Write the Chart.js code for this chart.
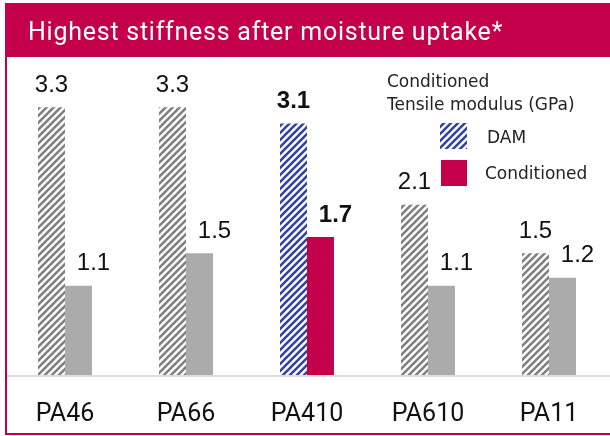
<!DOCTYPE html>
<html><head><meta charset="utf-8">
<script src="https://cdn.jsdelivr.net/npm/chart.js@4/dist/chart.umd.min.js"></script>
<style>html,body{margin:0;padding:0;background:#fff}#wrap{width:610px;height:436px;position:relative}</style>
</head><body><div id="wrap"><canvas id="c" width="610" height="436"></canvas></div>
<script>
const categories = ['PA46', 'PA66', 'PA410', 'PA610', 'PA11'];
const damValues = [3.3, 3.3, 3.1, 2.1, 1.5];
const conditionedValues = [1.1, 1.5, 1.7, 1.1, 1.2];
const seriesNames = ['DAM', 'Conditioned'];
const highlightCategory = 'PA410';
const titleText = 'Highest stiffness after moisture uptake*';
const legendTitleLines = ['Conditioned', 'Tensile modulus (GPa)'];
const yMax = 3.92;

const CRIMSON = '#C4004A';
const BLUE = '#3343A0';
const HATCH_GRAY = '#808080';
const COND_GRAY = '#ABABAB';

function hatch(color) {
  const s = 7;
  const c = document.createElement('canvas');
  c.width = s; c.height = s;
  const g = c.getContext('2d');
  g.fillStyle = '#fff'; g.fillRect(0, 0, s, s);
  g.strokeStyle = color; g.lineWidth = 2.6; g.lineCap = 'square';
  g.beginPath();
  g.moveTo(-1, s + 1); g.lineTo(s + 1, -1);
  g.moveTo(-1, 1); g.lineTo(1, -1);
  g.moveTo(s - 1, s + 1); g.lineTo(s + 1, s - 1);
  g.stroke();
  return g.createPattern(c, 'repeat');
}
const grayHatch = hatch(HATCH_GRAY);
const blueHatch = hatch(BLUE);

const damColors = categories.map(c => c === highlightCategory ? blueHatch : grayHatch);
const condColors = categories.map(c => c === highlightCategory ? CRIMSON : COND_GRAY);

const decor = {
  id: 'decor',
  beforeDraw(chart) {
    const ctx = chart.ctx;
    ctx.save();
    ctx.fillStyle = '#fff';
    ctx.fillRect(0, 0, chart.width, chart.height);
    ctx.fillStyle = CRIMSON;
    ctx.fillRect(5, 3, 605, 54);
    ctx.fillRect(5, 3, 2, 432);
    ctx.fillRect(5, 433, 605, 2);
    ctx.fillStyle = '#fff';
    ctx.font = '25px Roboto';
    ctx.letterSpacing = '0.75px';
    ctx.textBaseline = 'alphabetic';
    ctx.textAlign = 'left';
    ctx.fillText(titleText, 28, 40);
    ctx.letterSpacing = '0px';
    ctx.fillStyle = '#dcdcdc';
    ctx.fillRect(7, chart.chartArea.bottom, 603, 2);
    ctx.restore();
  },
  afterDatasetsDraw(chart) {
    const ctx = chart.ctx;
    ctx.save();
    ctx.fillStyle = '#111';
    ctx.textAlign = 'center';
    ctx.textBaseline = 'middle';
    chart.data.datasets.forEach((ds, d) => {
      const meta = chart.getDatasetMeta(d);
      meta.data.forEach((el, i) => {
        const bold = categories[i] === highlightCategory;
        ctx.font = (bold ? 'bold ' : '') + '24px "Liberation Sans", Arial, sans-serif';
        const x = el.x + (d === 1 ? 15 : 0);
        ctx.fillText(ds.data[i].toFixed(1), x, el.y - 22);
      });
    });
    ctx.restore();
  },
  afterDraw(chart) {
    const ctx = chart.ctx;
    ctx.save();
    ctx.fillStyle = '#222';
    ctx.textAlign = 'left';
    ctx.textBaseline = 'alphabetic';
    ctx.font = '17px "DejaVu Sans"';
    ctx.fillText(legendTitleLines[0], 387, 87);
    ctx.fillText(legendTitleLines[1], 387, 110);
    ctx.fillStyle = blueHatch;
    ctx.fillRect(440, 123, 27, 26);
    ctx.fillStyle = CRIMSON;
    ctx.fillRect(441, 160, 26, 26);
    ctx.fillStyle = '#222';
    ctx.fillText(seriesNames[0], 487, 143);
    ctx.fillText(seriesNames[1], 485, 179);
    ctx.restore();
  }
};

new Chart(document.getElementById('c'), {
  type: 'bar',
  data: {
    labels: categories,
    datasets: [
      { label: seriesNames[0], data: damValues, backgroundColor: damColors, borderWidth: 0 },
      { label: seriesNames[1], data: conditionedValues, backgroundColor: condColors, borderWidth: 0 }
    ]
  },
  options: {
    responsive: false,
    animation: false,
    devicePixelRatio: 1,
    categoryPercentage: 0.446,
    barPercentage: 1,
    layout: { padding: { top: 57, left: 4.5, right: 0.5, bottom: 0 } },
    plugins: { legend: { display: false }, title: { display: false }, tooltip: { enabled: false } },
    scales: {
      x: {
        grid: { display: false, drawTicks: false },
        border: { display: false },
        ticks: {
          color: '#111', padding: 12.5, maxRotation: 0,
          font: { family: 'Roboto', size: 25, lineHeight: 0.72 },
          callback: function (v, i) { return ['', categories[i]]; }
        }
      },
      y: { display: false, min: 0, max: yMax }
    }
  },
  plugins: [decor]
});
</script>
</body></html>
